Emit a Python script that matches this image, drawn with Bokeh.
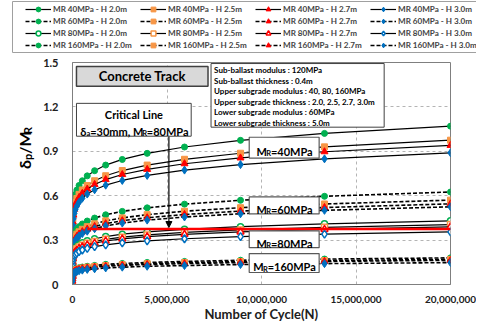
import math
from bokeh.plotting import figure
from bokeh.layouts import column, row
from bokeh.models import (Range1d, FixedTicker, Legend, LegendItem, Label,
                          BoxAnnotation, Arrow, NormalHead)
from bokeh.embed import file_html
from bokeh.resources import INLINE

FONT = "Lato"

# ---------------- data ----------------
N_CYCLES = [1, 100, 1000, 5000, 20000, 50000, 100000, 154000, 231000, 347000,
            520000, 780000, 1170000, 1756000, 2634000, 3951000, 5926000,
            8889000, 13333000, 20000000]

mr40_h20 = [0.152, 0.260, 0.339, 0.409, 0.480, 0.534, 0.579, 0.609, 0.638, 0.669, 0.701, 0.734, 0.769, 0.807, 0.845, 0.886, 0.929, 0.974, 1.021, 1.070]
mr40_h25 = [0.138, 0.237, 0.309, 0.372, 0.438, 0.487, 0.527, 0.555, 0.581, 0.609, 0.639, 0.669, 0.701, 0.735, 0.770, 0.807, 0.846, 0.887, 0.930, 0.975]
mr40_h27 = [0.133, 0.228, 0.298, 0.359, 0.422, 0.469, 0.509, 0.535, 0.560, 0.588, 0.616, 0.645, 0.676, 0.709, 0.743, 0.778, 0.816, 0.855, 0.897, 0.940]
mr40_h30 = [0.126, 0.216, 0.282, 0.340, 0.400, 0.444, 0.481, 0.506, 0.530, 0.556, 0.583, 0.611, 0.640, 0.671, 0.703, 0.737, 0.773, 0.810, 0.849, 0.890]

mr60_h20 = [0.089, 0.152, 0.198, 0.239, 0.281, 0.312, 0.338, 0.356, 0.373, 0.391, 0.409, 0.429, 0.449, 0.471, 0.494, 0.518, 0.543, 0.569, 0.596, 0.625]
mr60_h25 = [0.081, 0.139, 0.181, 0.218, 0.256, 0.284, 0.308, 0.324, 0.340, 0.356, 0.373, 0.391, 0.410, 0.430, 0.450, 0.472, 0.495, 0.519, 0.544, 0.570]
mr60_h27 = [0.077, 0.132, 0.173, 0.208, 0.245, 0.272, 0.295, 0.310, 0.325, 0.341, 0.357, 0.374, 0.392, 0.411, 0.431, 0.451, 0.473, 0.496, 0.520, 0.545]
mr60_h30 = [0.075, 0.128, 0.166, 0.201, 0.236, 0.262, 0.284, 0.299, 0.313, 0.328, 0.344, 0.360, 0.377, 0.396, 0.415, 0.435, 0.456, 0.478, 0.501, 0.525]

mr80_h20 = [0.061, 0.104, 0.136, 0.164, 0.193, 0.215, 0.233, 0.245, 0.256, 0.269, 0.282, 0.295, 0.309, 0.324, 0.340, 0.356, 0.373, 0.391, 0.410, 0.430]
mr80_h25 = [0.058, 0.098, 0.128, 0.155, 0.182, 0.202, 0.219, 0.230, 0.241, 0.253, 0.265, 0.278, 0.291, 0.305, 0.320, 0.335, 0.352, 0.369, 0.386, 0.405]
mr80_h27 = [0.055, 0.095, 0.124, 0.149, 0.175, 0.195, 0.211, 0.222, 0.232, 0.244, 0.255, 0.268, 0.280, 0.294, 0.308, 0.323, 0.339, 0.355, 0.372, 0.390]
mr80_h30 = [0.051, 0.087, 0.113, 0.136, 0.160, 0.178, 0.193, 0.203, 0.212, 0.223, 0.233, 0.244, 0.256, 0.268, 0.281, 0.295, 0.309, 0.324, 0.340, 0.356]

mr160_h20 = [0.026, 0.044, 0.057, 0.069, 0.081, 0.090, 0.097, 0.102, 0.107, 0.113, 0.118, 0.123, 0.129, 0.136, 0.142, 0.149, 0.156, 0.164, 0.172, 0.180]
mr160_h25 = [0.024, 0.041, 0.054, 0.065, 0.076, 0.085, 0.092, 0.097, 0.101, 0.106, 0.111, 0.117, 0.122, 0.128, 0.134, 0.141, 0.148, 0.155, 0.162, 0.170]
mr160_h27 = [0.023, 0.040, 0.052, 0.062, 0.073, 0.081, 0.088, 0.093, 0.097, 0.102, 0.107, 0.112, 0.117, 0.123, 0.129, 0.135, 0.141, 0.148, 0.156, 0.163]
mr160_h30 = [0.021, 0.036, 0.047, 0.057, 0.066, 0.074, 0.080, 0.084, 0.088, 0.093, 0.097, 0.102, 0.106, 0.112, 0.117, 0.123, 0.128, 0.135, 0.141, 0.148]

CRITICAL_X = [780000, 20000000]
CRITICAL_Y = [0.375, 0.375]

X_TICKS = [0, 5000000, 10000000, 15000000, 20000000]
X_TICK_LABELS = ["0", "5,000,000", "10,000,000", "15,000,000", "20,000,000"]
Y_TICKS = [0, 0.3, 0.6, 0.9, 1.2, 1.5]
Y_TICK_LABELS = ["0", "0.3", "0.6", "0.9", "1.2", "1.5"]

INFO_LINES = ["Sub-ballast modulus : 120MPa",
              "Sub-ballast thickness : 0.4m",
              "Upper subgrade modulus : 40, 80, 160MPa",
              "Upper subgrade thickness : 2.0, 2.5, 2.7, 3.0m",
              "Lower subgrade modulus : 60MPa",
              "Lower subgrade thickness : 5.0m"]

# ---------------- styles ----------------
GREEN, ORANGE, RED, BLUE = "#00b050", "#f79646", "#ff0000", "#0070c0"
H_STYLE = {"2.0": (GREEN, "circle", 6),
           "2.5": (ORANGE, "square", 6),
           "2.7": (RED, "triangle", 7),
           "3.0": (BLUE, "diamond", 8)}
MR_STYLE = {"40": (False, False), "60": (True, False),
            "80": (False, True), "160": (True, False)}

SERIES = [
    ("40", "2.0", mr40_h20), ("40", "2.5", mr40_h25), ("40", "2.7", mr40_h27), ("40", "3.0", mr40_h30),
    ("60", "2.0", mr60_h20), ("60", "2.5", mr60_h25), ("60", "2.7", mr60_h27), ("60", "3.0", mr60_h30),
    ("80", "2.0", mr80_h20), ("80", "2.5", mr80_h25), ("80", "2.7", mr80_h27), ("80", "3.0", mr80_h30),
    ("160", "2.0", mr160_h20), ("160", "2.5", mr160_h25), ("160", "2.7", mr160_h27), ("160", "3.0", mr160_h30),
]


def draw_series(fig, mr, h, xs, ys):
    color, marker, msize = H_STYLE[h]
    dashed, hollow = MR_STYLE[mr]
    lr = fig.line(xs, ys, line_color="black",
                  line_width=1.6 if dashed else 1.2,
                  line_dash="4 2" if dashed else "solid")
    if hollow:
        sr = fig.scatter(xs, ys, marker=marker, size=msize,
                         fill_color="white", line_color=color, line_width=1.5)
    else:
        sr = fig.scatter(xs, ys, marker=marker, size=msize,
                         fill_color=color, line_color=color, line_width=1)
    return [lr, sr]


# ---------------- main plot ----------------
p = figure(width=436, height=269, output_backend="svg", toolbar_location=None,
           x_range=Range1d(0, 20000000), y_range=Range1d(0, 1.5),
           min_border_left=28, min_border_right=26, min_border_top=7,
           min_border_bottom=39)
p.background_fill_color = "white"
p.border_fill_color = "white"
p.outline_line_color = "#7f7f7f"

p.xaxis.ticker = FixedTicker(ticks=X_TICKS)
p.xaxis.major_label_overrides = dict(zip(X_TICKS, X_TICK_LABELS))
p.yaxis.ticker = FixedTicker(ticks=Y_TICKS)
p.yaxis.major_label_overrides = dict(zip(Y_TICKS, Y_TICK_LABELS))
for ax, sz, so in ((p.xaxis[0], "10px", 5), (p.yaxis[0], "11px", 8)):
    ax.major_label_text_font = FONT
    ax.major_label_text_font_style = "bold"
    ax.major_label_text_font_size = sz
    ax.major_label_text_color = "#202020"
    ax.major_label_standoff = so
    ax.major_tick_line_color = None
    ax.minor_tick_line_color = None
    ax.axis_line_color = "#7f7f7f"
p.xaxis.axis_label = "Number of Cycle(N)"
p.xaxis.axis_label_text_font = FONT
p.xaxis.axis_label_text_font_style = "bold"
p.xaxis.axis_label_text_font_size = "13px"
p.xaxis.axis_label_text_color = "#202020"
p.xaxis.axis_label_standoff = 0

p.xgrid.ticker = FixedTicker(ticks=X_TICKS)
p.ygrid.ticker = FixedTicker(ticks=Y_TICKS)
for g in (p.xgrid[0], p.ygrid[0]):
    g.grid_line_color = "#b4b4b4"
    g.grid_line_dash = "3 3"
    g.grid_line_width = 1

for mr, h, ys in SERIES:
    draw_series(p, mr, h, N_CYCLES, ys)

p.line(CRITICAL_X, CRITICAL_Y, line_color=RED, line_width=2.5)

# ---------------- annotation helpers ----------------
CW = {'M': 0.88, 'R': 0.62, 'P': 0.60, 'a': 0.50, 'm': 0.84, 'p': 0.56,
      '=': 0.58, ',': 0.24, ' ': 0.19, 'δ': 0.57, '/': 0.36, '.': 0.24,
      '-': 0.36, 'H': 0.74}


def text_w(s, size):
    return sum(CW.get(c, 0.58) for c in s) * size


def rich(fig, x, y, pieces, size, angle=0.0, color="black"):
    """pieces: list of (text, is_subscript); centred at (x, y)."""
    sub = 0.68 * size
    widths = [text_w(t, sub if s else size) for t, s in pieces]
    cur = -sum(widths) / 2.0
    for (t, s), w in zip(pieces, widths):
        fs = sub if s else size
        shift = 0.35 * size + (0.22 * size if s else 0.0)
        if angle == 0.0:
            xo, yo = cur, -shift
        else:
            xo, yo = shift, cur
        fig.add_layout(Label(x=x, y=y, x_offset=xo, y_offset=yo, text=t, angle=angle,
                             text_font=FONT, text_font_style="bold",
                             text_font_size=f"{fs:.1f}px", text_color=color,
                             text_align="left", text_baseline="alphabetic"))
        cur += w


def box(fig, left, right, bottom, top, fill="white", line="#595959", lw=1.2):
    fig.add_layout(BoxAnnotation(left=left, right=right, bottom=bottom, top=top,
                                 fill_color=fill, fill_alpha=1.0,
                                 line_color=line, line_width=lw, line_alpha=1.0))


def label(x, y, text, size, align="center", style="bold"):
    p.add_layout(Label(x=x, y=y, text=text, text_font=FONT, text_font_style=style,
                       text_font_size=size, text_color="black",
                       text_align=align, text_baseline="middle"))


# Concrete Track box
box(p, 210000, 7170000, 1.339, 1.473, fill="#d9d9d9", line="#404040", lw=1.5)
label(3690000, 1.406, "Concrete Track", "13px")

# info box
box(p, 7330000, 16490000, 1.063, 1.493, line="#404040", lw=1.0)
for i, t in enumerate(INFO_LINES):
    label(7490000, 1.446 - i * 0.0706, t, "8px", align="left")

# critical line box + arrow
p.add_layout(Arrow(end=NormalHead(size=6, fill_color="black", line_color="black"),
                   x_start=5100000, y_start=1.002, x_end=5100000, y_end=0.385,
                   line_color="black", line_width=1.2))
box(p, 210000, 6280000, 1.002, 1.224, line="#404040", lw=1.0)
label(3250000, 1.150, "Critical Line", "11px")
rich(p, 3250000, 1.063, [("δ", False), ("a", True), ("=30mm, M", False), ("R", True),
                         ("=80MPa", False)], 11)

# MR boxes
for mrv, (b, t) in (("40", (0.854, 0.995)), ("60", (0.477, 0.592)),
                    ("80", (0.249, 0.363)), ("160", (0.081, 0.209))):
    box(p, 9350000, 13050000, b, t)
    rich(p, 11200000, (b + t) / 2, [("M", False), ("R", True), (f"={mrv}MPa", False)], 11)

# ---------------- y-axis title panel ----------------
tf = figure(width=40, height=269, output_backend="svg", toolbar_location=None,
            x_range=Range1d(0, 40), y_range=p.y_range,
            x_axis_location=None, y_axis_location=None,
            min_border_left=0, min_border_right=0, min_border_top=7,
            min_border_bottom=39)
tf.grid.visible = False
tf.outline_line_color = None
tf.background_fill_color = "white"
tf.border_fill_color = "white"
rich(tf, 18, 0.921, [("δ", False), ("p", True), ("/M", False), ("R", True)], 16,
     angle=math.pi / 2)

# ---------------- legend panel (pixel coordinates) ----------------
lf = figure(width=476, height=55, output_backend="svg", toolbar_location=None,
            x_range=Range1d(0, 476), y_range=Range1d(0, 55),
            x_axis_location=None, y_axis_location=None, min_border=0)
lf.grid.visible = False
lf.outline_line_color = None
lf.background_fill_color = "white"
lf.border_fill_color = "white"
box(lf, 12, 490, 3, 54, line="#a0a0a0", lw=1.0)

for ci, h in enumerate(["2.0", "2.5", "2.7", "3.0"]):
    items = []
    for mr in ["40", "60", "80", "160"]:
        rs = draw_series(lf, mr, h, [-50, -40], [-50, -40])
        items.append(LegendItem(label=f"MR {mr}MPa - H {h}m", renderers=rs))
    lg = Legend(items=items, location=(25 + 115 * ci, 4), orientation="vertical",
                label_text_font=FONT, label_text_font_style="bold",
                label_text_font_size="8.1px", label_height=12, glyph_height=12,
                glyph_width=26, label_standoff=2, spacing=0, padding=1, margin=0,
                border_line_color=None, background_fill_alpha=0)
    lf.add_layout(lg, "center")

layout = column(lf, row(tf, p, spacing=0), spacing=0)
open("out.html", "w").write(file_html(layout, INLINE))
